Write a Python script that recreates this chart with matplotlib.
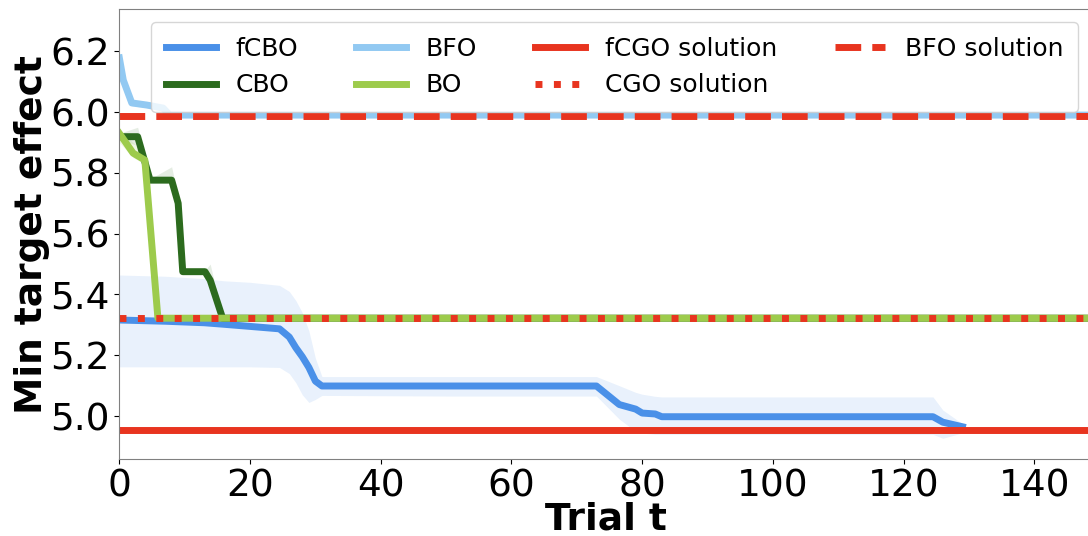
import matplotlib.pyplot as plt

# fCBO (mean and band)
fcbo_t = [0, 7, 13, 16, 20, 24.5, 26, 27, 28, 29, 30, 31, 50, 73, 76.5, 79, 80, 82, 83, 124.5, 126, 129]
fcbo_mean = [5.316, 5.312, 5.307, 5.302, 5.295, 5.287, 5.26, 5.225, 5.195, 5.16, 5.115, 5.099,
             5.099, 5.099, 5.038, 5.023, 5.010, 5.007, 4.998, 4.998, 4.980, 4.965]
fcbo_hi = [5.464, 5.46, 5.452, 5.445, 5.44, 5.43, 5.41, 5.38, 5.34, 5.28, 5.19, 5.13,
           5.13, 5.13, 5.10, 5.078, 5.072, 5.065, 5.063, 5.063, 5.02, 4.975]
fcbo_lo = [5.162, 5.162, 5.162, 5.162, 5.162, 5.16, 5.14, 5.11, 5.07, 5.045, 5.055, 5.068,
           5.066, 5.066, 4.99, 4.95, 4.944, 4.94, 4.94, 4.94, 4.927, 4.945]

# CBO
cbo_t = [0, 2.8, 4.7, 8.0, 9.0, 9.7, 13.1, 13.9, 15.8, 149]
cbo_mean = [5.919, 5.919, 5.776, 5.776, 5.70, 5.475, 5.475, 5.447, 5.322, 5.322]
cbo_hi = [5.93, 5.95, 5.78, 5.82, 5.72, 5.48, 5.48, 5.50, 5.325, 5.322]
cbo_lo = [5.91, 5.89, 5.77, 5.77, 5.65, 5.47, 5.47, 5.43, 5.32, 5.322]

# BO
bo_t = [0, 2.1, 3.9, 5.9, 149]
bo_mean = [5.93, 5.865, 5.842, 5.322, 5.322]
bo_hi = [5.94, 5.90, 5.86, 5.325, 5.322]
bo_lo = [5.90, 5.85, 5.83, 5.32, 5.322]

# BFO
bfo_t = [0, 0.6, 1.9, 4.2, 6.7, 7.7, 149]
bfo_mean = [6.178, 6.105, 6.03, 6.023, 6.013, 5.99, 5.99]
bfo_hi = [6.20, 6.13, 6.04, 6.03, 6.02, 5.99, 5.99]
bfo_lo = [6.15, 6.08, 6.02, 6.015, 6.005, 5.99, 5.99]

# reference solutions
fcgo_sol = 4.953
cgo_sol = 5.322
bfo_sol = 5.987

RED = '#e8341f'

fig = plt.figure(figsize=(10.88, 5.36), dpi=100)
ax = fig.add_axes([0.1097, 0.1437, 0.895, 0.839])

ax.fill_between(fcbo_t, fcbo_lo, fcbo_hi, color='#4a90e8', alpha=0.12, linewidth=0)
ax.fill_between(cbo_t, cbo_lo, cbo_hi, color='#2c6b1e', alpha=0.12, linewidth=0)
ax.fill_between(bo_t, bo_lo, bo_hi, color='#9dcb4c', alpha=0.15, linewidth=0)
ax.fill_between(bfo_t, bfo_lo, bfo_hi, color='#92c9f2', alpha=0.2, linewidth=0)

l1, = ax.plot(fcbo_t, fcbo_mean, color='#4a90e8', lw=5, label='fCBO')
l3, = ax.plot(bfo_t, bfo_mean, color='#92c9f2', lw=5, label='BFO')
l2, = ax.plot(cbo_t, cbo_mean, color='#2c6b1e', lw=5, label='CBO')
l4, = ax.plot(bo_t, bo_mean, color='#9dcb4c', lw=5, label='BO')

l5 = ax.axhline(fcgo_sol, color=RED, lw=5, ls='-', label='fCGO solution')
l6 = ax.axhline(cgo_sol, color=RED, lw=5, ls=':', label='CGO solution')
l7 = ax.axhline(bfo_sol, color=RED, lw=5, ls='--', label='BFO solution')

ax.set_xlim(0, 149)
ax.set_ylim(4.859, 6.338)
ax.set_xticks([0, 20, 40, 60, 80, 100, 120, 140])
ax.set_yticks([5.0, 5.2, 5.4, 5.6, 5.8, 6.0, 6.2])
ax.tick_params(labelsize=27, colors='black')
for s in ax.spines.values():
    s.set_color('#808080')

ax.set_xlabel('Trial t', fontsize=27, fontweight='bold', labelpad=-2)
ax.set_ylabel('Min target effect', fontsize=27, fontweight='bold', labelpad=0)

ax.legend(handles=[l1, l2, l3, l4, l5, l6, l7], ncol=4, fontsize=18,
          loc='upper right', bbox_to_anchor=(0.9846, 0.972), borderaxespad=0,
          columnspacing=2.3, borderpad=0.6)

fig.savefig('out.png', dpi=100)
